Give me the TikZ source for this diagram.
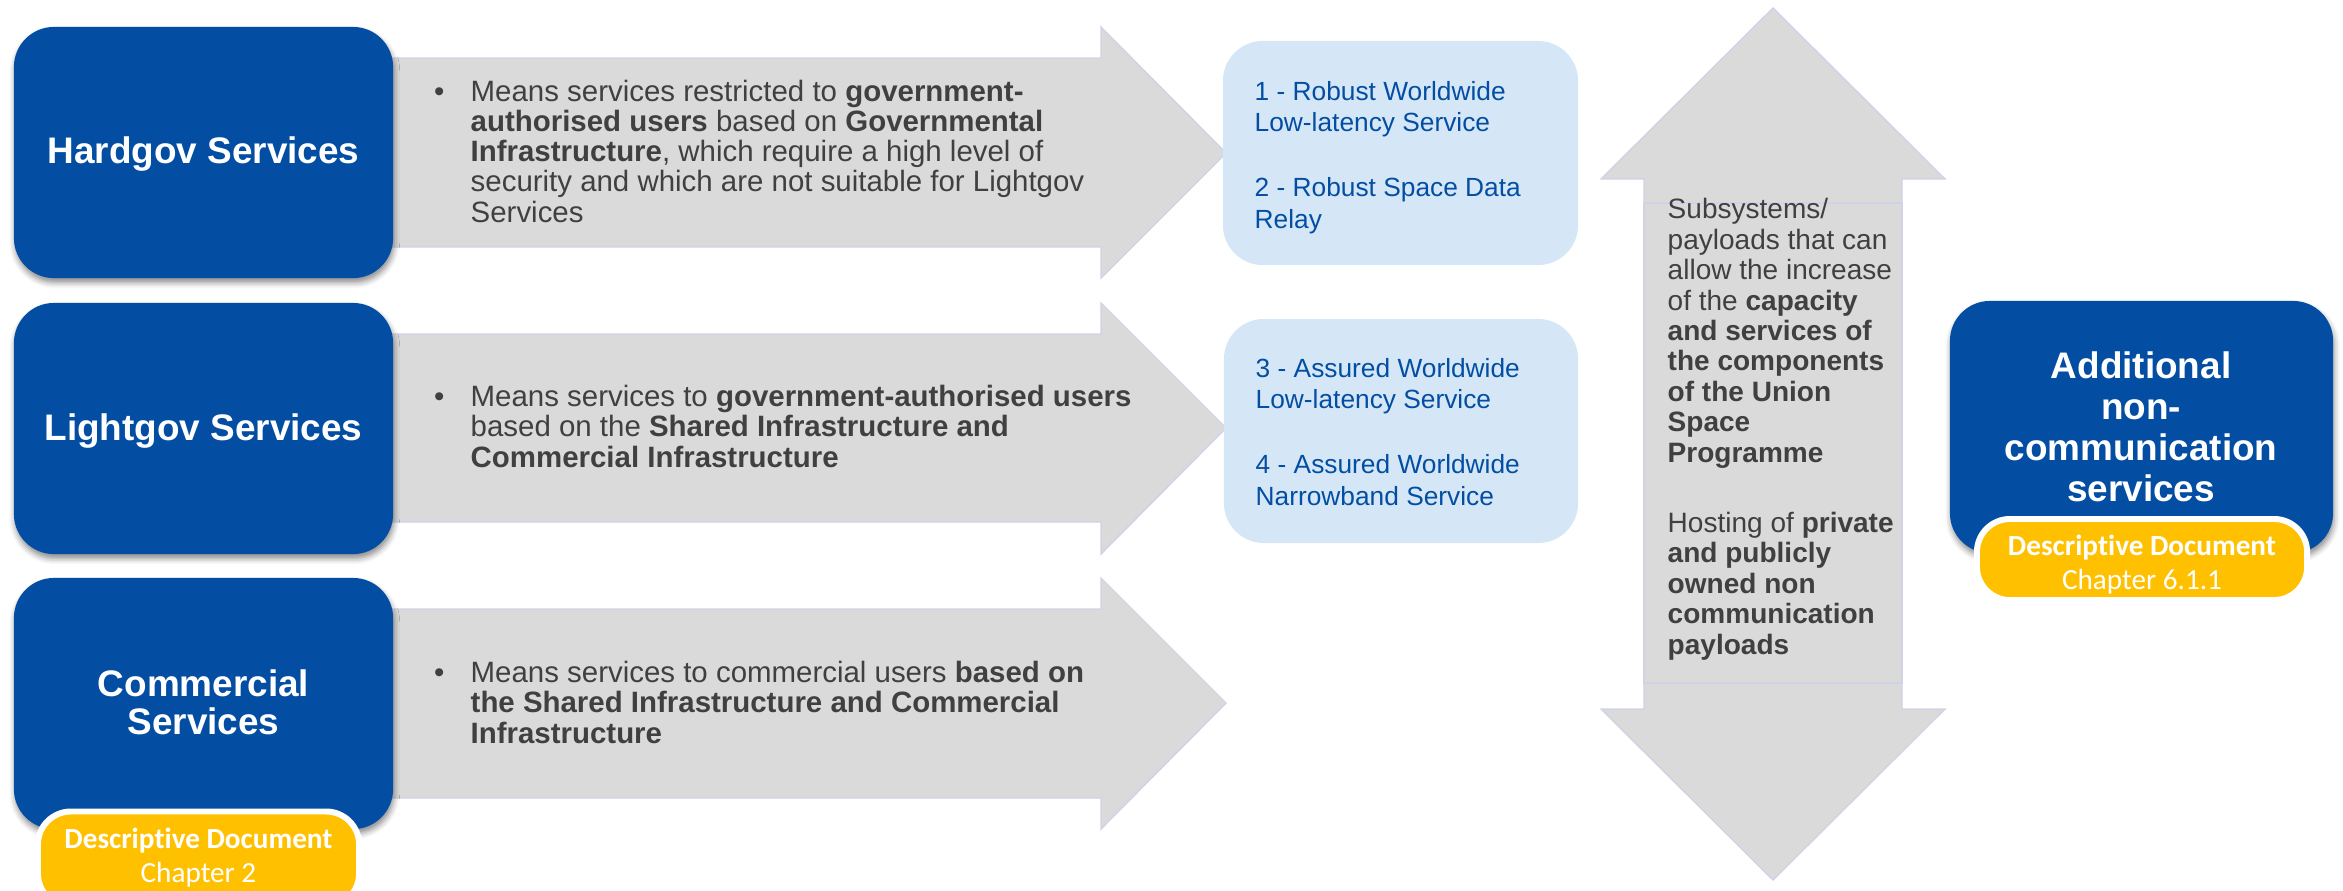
\documentclass[tikz,border=0pt]{standalone}
\usepackage{fontspec}
\setmainfont{Liberation Sans}
\newfontfamily\calfont[Ligatures=CommonOff]{Carlito}
\usetikzlibrary{shadows.blur}
\definecolor{eublue}{HTML}{034EA2}
\definecolor{lightbox}{HTML}{D5E7F7}
\definecolor{grayfill}{HTML}{DADADA}
\definecolor{grayedge}{HTML}{D0D2E6}
\definecolor{txtgray}{HTML}{404040}
\definecolor{gold}{HTML}{FFC000}
\tikzset{
  bluebox/.style={fill=eublue, draw=none, rounded corners=0.4cm, inner sep=0pt,
    blur shadow={shadow xshift=0.3pt, shadow yshift=-1.3pt, shadow blur radius=1.6pt, shadow opacity=45}},
  lightboxst/.style={fill=lightbox, draw=none, rounded corners=0.4cm, inner sep=0pt},
  badge/.style={fill=gold, draw=white, line width=1.7pt, rounded corners=0.33cm, inner sep=0pt},
  blockarrow/.style={fill=grayfill, draw=grayedge, line width=0.4pt, line join=miter},
  title/.style={text=white, font=\fontsize{10.5pt}{11.2pt}\selectfont\bfseries, align=center, inner sep=0pt, anchor=base},
  bodytext/.style={text=txtgray, font=\fontsize{8.37pt}{8.54pt}\selectfont, align=left, inner sep=0pt, anchor=base west},
  listtext/.style={text=eublue, font=\fontsize{7.48pt}{9.0pt}\selectfont, align=left, inner sep=0pt, anchor=base west},
  vtext/.style={text=txtgray, font=\fontsize{7.97pt}{8.65pt}\selectfont, align=left, inner sep=0pt, anchor=base west},
  badgetext/.style={text=white, font=\calfont\fontsize{8.3pt}{9.5pt}\selectfont, align=center, inner sep=0pt, anchor=base},
}
\begin{document}
\begin{tikzpicture}[x=0.01cm, y=-0.01cm]
\useasboundingbox (0,0) rectangle (2343,890);

% horizontal block arrows
\draw[blockarrow] (380,58) -- (1101,58) -- (1101,27) -- (1226,153) -- (1101,278) -- (1101,247) -- (380,247) -- cycle;
\draw[blockarrow] (380,334) -- (1101,334) -- (1101,303) -- (1226,428) -- (1101,554) -- (1101,522) -- (380,522) -- cycle;
\draw[blockarrow] (380,609) -- (1101,609) -- (1101,578) -- (1226,703) -- (1101,829) -- (1101,798) -- (380,798) -- cycle;

% vertical double arrow
\draw[blockarrow] (1773,8) -- (1945,179) -- (1902,179) -- (1902,709) -- (1945,709) -- (1773,880)
  -- (1601,709) -- (1644,709) -- (1644,179) -- (1601,179) -- cycle;
\draw[grayedge, line width=0.4pt] (1644,203) rectangle (1902,683);

% blue boxes
\node[bluebox, minimum width=3.79cm, minimum height=2.51cm] (hard) at (203.5,152.5) {};
\node[bluebox, minimum width=3.79cm, minimum height=2.51cm] (light) at (203.5,428.5) {};
\node[bluebox, minimum width=3.79cm, minimum height=2.51cm] (comm) at (203.5,703.5) {};
\node[bluebox, minimum width=3.83cm, minimum height=2.52cm] (addl) at (2141.5,427) {};

% light blue boxes
\node[lightboxst, minimum width=3.55cm, minimum height=2.24cm] (lb1) at (1400.5,153) {};
\node[lightboxst, minimum width=3.54cm, minimum height=2.24cm] (lb2) at (1401,431) {};

% badges
\node[badge, minimum width=3.21cm, minimum height=0.95cm] (bdg1) at (198.5,859) {};
\node[badge, minimum width=3.30cm, minimum height=0.81cm] (bdg2) at (2142,559.5) {};

% titles (anchor = baseline of last line)
\node[title] (thard) at (203.5,163.5) {Hardgov Services};
\node[title] (tlight) at (203.5,440) {Lightgov Services};
\node[title, font=\fontsize{10.5pt}{10.8pt}\selectfont\bfseries] (tcomm) at (203.5,734) {Commercial\\Services};
\node[title, font=\fontsize{10.5pt}{11.6pt}\selectfont\bfseries] (taddl) at (2141,501) {Additional\\non-\\communication\\services};

% arrow texts
\node[bodytext] (b1) at (470,222) {\llap{\textbullet\hspace{7.5pt}}Means services restricted to \textbf{government-}\\\textbf{authorised users} based on \textbf{Governmental}\\\textbf{Infrastructure}, which require a high level of\\security and which are not suitable for Lightgov\\Services};
\node[bodytext] (b2) at (470,467) {\llap{\textbullet\hspace{7.5pt}}Means services to \textbf{government-authorised users}\\based on the \textbf{Shared Infrastructure and}\\\textbf{Commercial Infrastructure}};
\node[bodytext] (b3) at (470,743) {\llap{\textbullet\hspace{7.5pt}}Means services to commercial users \textbf{based on}\\\textbf{the Shared Infrastructure and Commercial}\\\textbf{Infrastructure}};

% list texts
\node[listtext] (l1) at (1254,228) {1 - Robust Worldwide\\Low-latency Service\\[9.4pt]2 - Robust Space Data\\Relay};
\node[listtext] (l2) at (1255,505) {3 - Assured Worldwide\\Low-latency Service\\[9.4pt]4 - Assured Worldwide\\Narrowband Service};

% vertical arrow text
\node[vtext] (vt) at (1667,654) {Subsystems/\\payloads that can\\allow the increase\\of the \textbf{capacity}\\\textbf{and services of}\\\textbf{the components}\\\textbf{of the Union}\\\textbf{Space}\\\textbf{Programme}\\[11.3pt]Hosting of \textbf{private}\\\textbf{and publicly}\\\textbf{owned non}\\\textbf{communication}\\\textbf{payloads}};

% badge texts
\node[badgetext] (bt1) at (198.5,882) {\textbf{Descriptive Document}\\Chapter 2};
\node[badgetext] (bt2) at (2142,589) {\textbf{Descriptive Document}\\Chapter 6.1.1};
\end{tikzpicture}
\end{document}
